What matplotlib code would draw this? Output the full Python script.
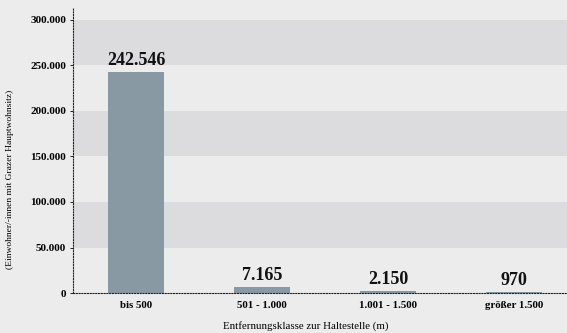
import matplotlib.pyplot as plt

klassen = ["bis 500", "501 - 1.000", "1.001 - 1.500", "größer 1.500"]
einwohner = [242546, 7165, 2150, 970]
y_ticks = [0, 50000, 100000, 150000, 200000, 250000, 300000]


def fmt(v):
    return f"{v:,}".replace(",", ".")


plt.rcParams['font.family'] = ['Liberation Serif', 'DejaVu Serif']

fig = plt.figure(figsize=(5.67, 3.33), dpi=100, facecolor="#ececec")
ax = fig.add_axes([0.129, 0.12, 0.871, 0.856])
ax.set_facecolor("#ececec")

# alternating horizontal bands
for i in range(len(y_ticks) - 1):
    if i % 2 == 1:
        ax.axhspan(y_ticks[i], y_ticks[i + 1], color="#dcdcde", zorder=0, lw=0)

x = list(range(len(klassen)))
ax.bar(x, einwohner, width=0.45, color="#8899a4", zorder=2)
for xi, v in zip(x, einwohner):
    ax.text(xi, v + 3000, fmt(v), ha="center", va="bottom",
            fontsize=13, fontweight="bold", color="#111111")

ax.set_xlim(-0.5, 3.42)
ax.set_ylim(0, 313000)
ax.set_yticks(y_ticks)
ax.set_yticklabels([fmt(t) for t in y_ticks], fontsize=8, fontweight="bold")
ax.set_xticks(x)
ax.set_xticklabels(klassen, fontsize=7.8, fontweight="bold")
ax.tick_params(axis="x", length=0, pad=6)
ax.tick_params(axis="y", length=2, width=0.6, pad=3)

for s in ["top", "right"]:
    ax.spines[s].set_visible(False)
for s in ["left", "bottom"]:
    ax.spines[s].set_linestyle((0, (1, 1.5)))
    ax.spines[s].set_linewidth(0.8)
    ax.spines[s].set_color("#222222")

ax.set_xlabel("Entfernungsklasse zur Haltestelle (m)", fontsize=7.8)
ax.xaxis.set_label_coords(0.47, -0.1)
ax.set_ylabel("(Einwohner/-innen mit Grazer Hauptwohnsitz)", fontsize=6.8)
ax.yaxis.set_label_coords(-0.12, 0.40)

fig.savefig("out.png", dpi=100, facecolor=fig.get_facecolor())
